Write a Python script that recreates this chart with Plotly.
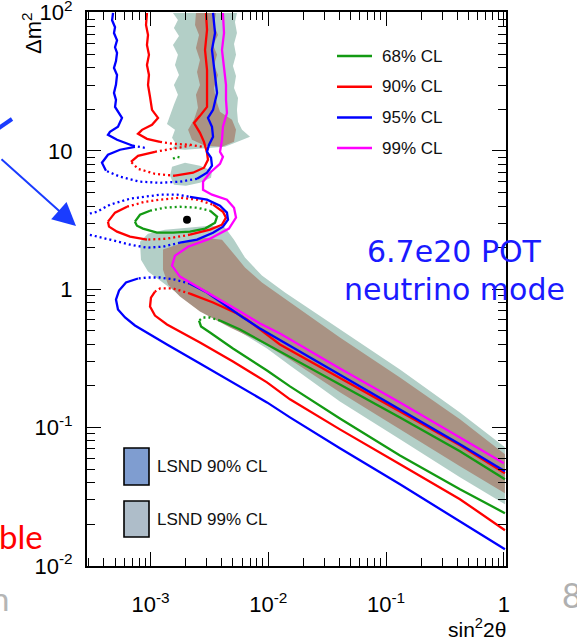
import plotly.graph_objects as go

# ---------------- data (log10 sin^2 2theta, log10 dm^2) ----------------
TEAL_TOP = [(-2.809,1.998),(-2.767,1.947),(-2.801,1.890),(-2.758,1.832),(-2.809,1.767),(-2.767,1.695),
            (-2.792,1.622),(-2.758,1.550),(-2.801,1.478),(-2.767,1.406),(-2.801,1.334),(-2.834,1.261),
            (-2.860,1.196),(-2.792,1.153),(-2.817,1.095),(-2.784,1.052),(-2.817,1.016),(-2.707,1.009),
            (-2.580,1.016),(-2.452,1.023),(-2.368,1.030),(-2.240,1.074),(-2.155,1.103),(-2.223,1.153),
            (-2.257,1.211),(-2.266,1.297),(-2.257,1.384),(-2.291,1.456),(-2.274,1.543),(-2.300,1.615),
            (-2.274,1.695),(-2.291,1.774),(-2.266,1.853),(-2.283,1.933),(-2.266,1.998)]
TEAL_BLOB = [(-2.817,0.886),(-2.707,0.915),(-2.580,0.893),(-2.478,0.857),(-2.486,0.807),(-2.580,0.770),
             (-2.699,0.749),(-2.801,0.756),(-2.834,0.821)]
TEAL_BAND = [(-3.089,0.344),(-3.021,0.402),(-2.877,0.431),(-2.665,0.446),(-2.495,0.460),(-2.368,0.446),
             (-2.291,0.359),(-2.198,0.229),(-2.054,0.099),(-1.858,-0.024),(-1.392,-0.291),(-0.882,-0.580),
             (-0.373,-0.891),(0.009,-1.143),(0.009,-1.554),(-0.373,-1.359),(-0.882,-1.085),(-1.392,-0.811),
             (-1.816,-0.551),(-2.011,-0.428),(-2.300,-0.276),(-2.520,-0.168),(-2.690,-0.074),(-2.817,-0.002),
             (-2.919,0.063),(-3.021,0.128),(-3.081,0.214)]
BROWN_TOP = [(-2.614,1.998),(-2.444,1.998),(-2.461,1.911),(-2.427,1.839),(-2.469,1.767),(-2.435,1.695),
             (-2.461,1.622),(-2.427,1.550),(-2.461,1.456),(-2.444,1.370),(-2.410,1.283),(-2.308,1.225),
             (-2.274,1.153),(-2.291,1.066),(-2.393,1.030),(-2.537,1.038),(-2.648,1.081),(-2.681,1.153),
             (-2.631,1.225),(-2.597,1.312),(-2.614,1.406),(-2.580,1.478),(-2.605,1.572),(-2.580,1.658),
             (-2.614,1.745),(-2.588,1.839),(-2.622,1.911)]
BROWN_BAND = [(-2.894,0.287),(-2.750,0.330),(-2.537,0.373),(-2.393,0.359),(-2.308,0.272),(-2.198,0.157),
              (-2.054,0.049),(-1.816,-0.096),(-1.392,-0.349),(-0.882,-0.638),(-0.373,-0.940),(0.009,-1.193),
              (0.009,-1.475),(-0.373,-1.280),(-0.882,-1.013),(-1.392,-0.745),(-1.816,-0.507),(-2.054,-0.385),
              (-2.325,-0.276),(-2.580,-0.161),(-2.750,-0.053),(-2.851,0.034),(-2.894,0.142)]

GREEN_BLOB = [(-2.809,0.944),(-2.775,0.958),(-2.741,0.951)]
GREEN_ISLAND = [(-3.132,0.489),(-3.089,0.539),(-3.004,0.568),(-2.877,0.590),(-2.750,0.597),(-2.605,0.590),
                (-2.495,0.568),(-2.435,0.525),(-2.452,0.482),(-2.537,0.439),(-2.665,0.417),(-2.809,0.409),
                (-2.945,0.409),(-3.064,0.439),(-3.115,0.460),(-3.132,0.489)]
GREEN_LOWER = [(0.009,-1.374),(-0.373,-1.172),(-0.882,-0.927),(-1.392,-0.688),(-1.901,-0.450),(-2.240,-0.291),
               (-2.410,-0.226),(-2.495,-0.204),(-2.554,-0.204),(-2.588,-0.226),(-2.571,-0.269),(-2.495,-0.313),
               (-2.300,-0.428),(-2.011,-0.587),(-1.816,-0.702),(-1.392,-0.935),(-0.882,-1.202),(-0.373,-1.446),
               (0.009,-1.619)]

RED_LEFT = [(-3.030,1.998),(-3.038,1.911),(-3.021,1.839),(-3.030,1.767),(-3.013,1.695),(-3.030,1.622),
            (-3.013,1.550),(-3.021,1.478),(-3.004,1.391),(-2.987,1.297),(-2.936,1.239),(-2.987,1.189),
            (-3.072,1.153),(-3.106,1.124),(-3.030,1.088),(-2.919,1.066),(-2.809,1.052),(-2.665,1.045),
            (-2.554,1.030)]
RED_RIGHT = [(-2.529,1.998),(-2.520,1.875),(-2.537,1.731),(-2.520,1.586),(-2.520,1.442),(-2.520,1.319),
             (-2.580,1.254),(-2.631,1.203),(-2.580,1.131),(-2.546,1.066),(-2.520,0.987),(-2.512,0.936),
             (-2.546,0.879),(-2.639,0.843),(-2.792,0.821),(-2.962,0.835),(-3.106,0.871),(-3.166,0.922),
             (-3.106,0.965),(-2.962,0.994),(-2.817,1.016),(-2.665,1.038)]
RED_ISLAND = [(-3.361,0.489),(-3.301,0.554),(-3.199,0.597),(-3.047,0.633),(-2.919,0.648),(-2.750,0.662),
              (-2.605,0.648),(-2.469,0.612),(-2.385,0.561),(-2.359,0.518),(-2.393,0.467),(-2.495,0.431),
              (-2.665,0.395),(-2.860,0.366),(-3.030,0.359),(-3.174,0.381),(-3.284,0.417),(-3.352,0.453),
              (-3.361,0.489)]
RED_LOWER = [(0.009,-1.331),(-0.373,-1.128),(-0.882,-0.883),(-1.392,-0.638),(-1.901,-0.399),(-2.181,-0.219),
             (-2.266,-0.175),(-2.469,-0.096),(-2.665,-0.031),(-2.809,0.006),(-2.919,0.006),(-2.962,-0.017),
             (-2.996,-0.060),(-3.004,-0.125),(-2.962,-0.190),(-2.860,-0.255),(-2.580,-0.385),(-2.300,-0.522),
             (-2.011,-0.673),(-1.816,-0.796),(-1.392,-1.013),(-0.882,-1.265),(-0.373,-1.518),(0.009,-1.742)]

BLUE_LEFT = [(-3.318,1.998),(-3.326,1.945),(-3.301,1.895),(-3.310,1.853),(-3.284,1.800),(-3.301,1.750),
             (-3.284,1.709),(-3.293,1.650),(-3.310,1.600),(-3.284,1.550),(-3.293,1.480),(-3.310,1.420),
             (-3.293,1.370),(-3.301,1.319),(-3.242,1.239),(-3.276,1.175),(-3.344,1.139),(-3.361,1.117),
             (-3.284,1.081),(-3.149,1.038),(-3.047,1.023)]
BLUE_RIGHT = [(-2.469,1.998),(-2.452,1.853),(-2.478,1.731),(-2.461,1.608),(-2.435,1.420),(-2.469,1.297),
              (-2.512,1.239),(-2.478,1.175),(-2.469,1.103),(-2.503,1.045),(-2.520,0.994),(-2.486,0.951),
              (-2.478,0.893),(-2.520,0.843),(-2.605,0.799),(-2.750,0.778),(-2.919,0.770),(-3.089,0.778),
              (-3.259,0.814),(-3.378,0.857),(-3.412,0.915),(-3.361,0.973),(-3.259,1.009),(-3.132,1.030)]
BLUE_ISLAND = [(-3.556,0.539),(-3.454,0.561),(-3.344,0.612),(-3.174,0.655),(-2.919,0.684),(-2.775,0.684),
               (-2.665,0.669),(-2.520,0.648),(-2.410,0.604),(-2.351,0.554),(-2.342,0.503),(-2.385,0.453),
               (-2.469,0.409),(-2.605,0.359),(-2.750,0.337),(-2.894,0.308),(-3.030,0.301),(-3.174,0.323),
               (-3.344,0.359),(-3.454,0.381),(-3.556,0.402)]
BLUE_LOWER = [(0.009,-1.316),(-0.373,-1.121),(-0.882,-0.869),(-1.392,-0.616),(-1.901,-0.363),(-2.070,-0.284),
              (-2.215,-0.204),(-2.351,-0.125),(-2.520,-0.024),(-2.665,0.041),(-2.792,0.070),(-2.919,0.085),
              (-3.021,0.085),(-3.106,0.078),(-3.208,0.049),(-3.267,-0.009),(-3.293,-0.074),(-3.276,-0.146),
              (-3.216,-0.204),(-3.132,-0.262),(-3.004,-0.327),(-2.860,-0.399),(-2.580,-0.536),(-2.300,-0.673),
              (-2.011,-0.818),(-1.816,-0.926),(-1.392,-1.150),(-0.882,-1.410),(-0.373,-1.677),(0.009,-1.880)]

MAGENTA = [(-2.385,1.998),(-2.376,1.853),(-2.393,1.731),(-2.376,1.608),(-2.359,1.478),(-2.359,1.370),
           (-2.351,1.275),(-2.385,1.175),(-2.393,1.081),(-2.410,0.994),(-2.385,0.958),(-2.410,0.907),
           (-2.495,0.843),(-2.554,0.778),(-2.554,0.720),(-2.478,0.684),(-2.351,0.648),(-2.291,0.590),
           (-2.274,0.518),(-2.334,0.439),(-2.495,0.366),(-2.681,0.308),(-2.792,0.243),(-2.817,0.171),
           (-2.750,0.092),(-2.605,0.020),(-2.410,-0.074),(-2.240,-0.161),(-2.070,-0.248),(-1.901,-0.320),
           (-1.392,-0.573),(-0.882,-0.818),(-0.373,-1.071),(0.0,-1.258)]

BEST_FIT = (-2.690, 0.503)

LEGEND_LABELS = ["68% CL", "90% CL", "95% CL", "99% CL"]
LSND_LABELS = ["LSND 90% CL", "LSND 99% CL"]
X_TICKS = [1e-3, 1e-2, 1e-1, 1]
X_TICKTEXT = ["10<sup>-3</sup>", "10<sup>-2</sup>", "10<sup>-1</sup>", "1"]
Y_TICKS = [1e-2, 1e-1, 1, 10, 100]
Y_TICKTEXT = ["10<sup>-2</sup>", "10<sup>-1</sup>", "1", "10", "10<sup>2</sup>"]

# ---------------- styles ----------------
GREEN = "#139a13"
RED = "#ff0000"
BLUE = "#0000ff"
MAG = "#ff00ff"
TEAL_C = "#b3cfc7"
BROWN_C = "#a99384"

W, H = 577, 642
L, R, T, B = 87, 71, 12, 76
PW, PH = W - L - R, H - T - B


def px(xp):
    return (xp - L) / PW


def py(yp):
    return (H - B - yp) / PH


fig = go.Figure()


def pts(p):
    return [10 ** a for a, b in p], [10 ** b for a, b in p]


def fill(p, color):
    x, y = pts(p)
    fig.add_trace(go.Scatter(x=x + [x[0]], y=y + [y[0]], mode="lines", fill="toself",
                             fillcolor=color, line=dict(width=0, color=color),
                             hoverinfo="skip", showlegend=False))


def line(p, color, dotted=(), w=2.3):
    """draw a contour; `dotted` lists index ranges (i, j) drawn as sparse dots"""
    x, y = pts(p)
    marks = [False] * (len(p) - 1)
    for i, j in dotted:
        for k in range(i, j):
            marks[k] = True
    k = 0
    while k < len(marks):
        j = k
        while j < len(marks) and marks[j] == marks[k]:
            j += 1
        dash = "2px,3px" if marks[k] else "solid"
        fig.add_trace(go.Scatter(x=x[k:j + 1], y=y[k:j + 1], mode="lines",
                                 line=dict(color=color, width=w, dash=dash),
                                 hoverinfo="skip", showlegend=False))
        k = j


fill(TEAL_TOP, TEAL_C)
fill(TEAL_BLOB, TEAL_C)
fill(TEAL_BAND, TEAL_C)
fill(BROWN_TOP, BROWN_C)
fill(BROWN_BAND, BROWN_C)

line(GREEN_BLOB, GREEN, [(0, 2)])
line(GREEN_ISLAND, GREEN, [(2, 6)])
line(GREEN_LOWER, GREEN, [(6, 9)])
line(RED_LEFT, RED, [(15, 18)])
line(RED_RIGHT, RED, [(14, 17), (19, 21)])
line(RED_ISLAND, RED, [(2, 7), (12, 14)])
line(RED_LOWER, RED, [(8, 11)])
line(BLUE_LEFT, BLUE, [(19, 20)])
line(BLUE_RIGHT, BLUE, [(14, 19)])
line(BLUE_ISLAND, BLUE, [(0, 6), (14, 20)])
line(BLUE_LOWER, BLUE, [(9, 13)])
line(MAGENTA, MAG)

fig.add_trace(go.Scatter(x=[10 ** BEST_FIT[0]], y=[10 ** BEST_FIT[1]], mode="markers",
                         marker=dict(color="black", size=8), hoverinfo="skip", showlegend=False))

FONT = "Liberation Sans, Arial, sans-serif"
minor_x = [k * 10 ** e for e in range(-4, 1) for k in range(2, 10) if 2.9e-4 < k * 10 ** e < 1.04]
minor_y = [k * 10 ** e for e in range(-2, 2) for k in range(2, 10)]

axis_common = dict(type="log", showgrid=False, zeroline=False, showline=True, linecolor="black",
                   linewidth=2, mirror="allticks", ticks="inside", ticklen=14, tickwidth=1.3,
                   tickcolor="black", automargin=False, ticklabeloverflow="allow",
                   tickfont=dict(family=FONT, size=22, color="black"))

fig.update_xaxes(range=[-3.539, 0.018], tickmode="array", tickvals=X_TICKS, ticktext=X_TICKTEXT,
                 ticklabelstandoff=18,
                 minor=dict(tickmode="array", tickvals=minor_x, ticks="inside", ticklen=8,
                            tickwidth=1.3, tickcolor="black", showgrid=False),
                 **axis_common)
fig.update_yaxes(range=[-2.001, 2.005], tickmode="array", tickvals=Y_TICKS, ticktext=Y_TICKTEXT,
                 ticklabelstandoff=8,
                 minor=dict(tickmode="array", tickvals=minor_y, ticks="inside", ticklen=8,
                            tickwidth=1.3, tickcolor="black", showgrid=False),
                 **axis_common)

shapes = []
ann = []
# CL legend
for i, (lab, col) in enumerate(zip(LEGEND_LABELS, [GREEN, RED, BLUE, MAG])):
    yy = 56 + i * 30.7
    shapes.append(dict(type="line", xref="paper", yref="paper", x0=px(337), x1=px(372), y0=py(yy), y1=py(yy),
                       line=dict(color=col, width=2.5)))
    ann.append(dict(xref="paper", yref="paper", x=px(380), y=py(yy), text=lab, showarrow=False,
                    xanchor="left", yanchor="middle", font=dict(family=FONT, size=17, color="#111")))
# LSND legend
for i, (lab, col) in enumerate(zip(LSND_LABELS, ["#7f9dd0", "#aebdc9"])):
    y0, y1 = [(448, 485), (501, 537)][i]
    shapes.append(dict(type="rect", xref="paper", yref="paper", x0=px(124), x1=px(149), y0=py(y1), y1=py(y0),
                       fillcolor=col, line=dict(color="black", width=1.6)))
    ann.append(dict(xref="paper", yref="paper", x=px(155), y=py((y0 + y1) / 2), text=lab, showarrow=False,
                    xanchor="left", yanchor="middle", font=dict(family=FONT, size=17, color="#111")))

# axis titles
ann.append(dict(xref="paper", yref="paper", x=px(32), y=py(33), text="\u0394m<sup>2</sup>", textangle=-90,
                showarrow=False, xanchor="center", yanchor="middle", font=dict(family=FONT, size=22, color="black")))
ann.append(dict(xref="paper", yref="paper", x=px(508), y=py(628), text="sin<sup>2</sup>2\u03b8",
                showarrow=False, xanchor="right", yanchor="middle", font=dict(family=FONT, size=21, color="black")))

# slide overlay text
SLIDE = "DejaVu Sans, sans-serif"
ann.append(dict(xref="paper", yref="paper", x=px(454), y=py(251), text="6.7e20 POT", showarrow=False,
                xanchor="center", yanchor="middle", font=dict(family=SLIDE, size=30, color="#1a1aff")))
ann.append(dict(xref="paper", yref="paper", x=px(454), y=py(289), text="neutrino mode", showarrow=False,
                xanchor="center", yanchor="middle", font=dict(family=SLIDE, size=30, color="#1a1aff")))
ann.append(dict(xref="paper", yref="paper", x=px(45), y=py(536), text="ble", showarrow=False,
                xanchor="right", yanchor="middle", font=dict(family="Lato, sans-serif", size=33, color="#ff0000")))
ann.append(dict(xref="paper", yref="paper", x=px(11), y=py(598), text="n", showarrow=False,
                xanchor="right", yanchor="middle", font=dict(family="Lato, sans-serif", size=33, color="#b5b5b5")))
ann.append(dict(xref="paper", yref="paper", x=px(560), y=py(594), text="8", showarrow=False,
                xanchor="left", yanchor="middle", font=dict(family="Lato, sans-serif", size=34, color="#b0b0b0")))
# arrow
ann.append(dict(xref="paper", yref="paper", x=px(76), y=py(226), ax=-88, ay=-68, axref="pixel", ayref="pixel",
                text="", showarrow=True, arrowhead=2, arrowsize=2.3, arrowwidth=2, arrowcolor="#1a3cff"))
shapes.append(dict(type="line", xref="paper", yref="paper", x0=px(-4), y0=py(130), x1=px(12), y1=py(119),
                   line=dict(color="#1a3cff", width=4)))

fig.update_layout(width=W, height=H, margin=dict(l=L, r=R, t=T, b=B, autoexpand=False), paper_bgcolor="white",
                  plot_bgcolor="white", showlegend=False, shapes=shapes, annotations=ann)

fig.write_html("out.html")
